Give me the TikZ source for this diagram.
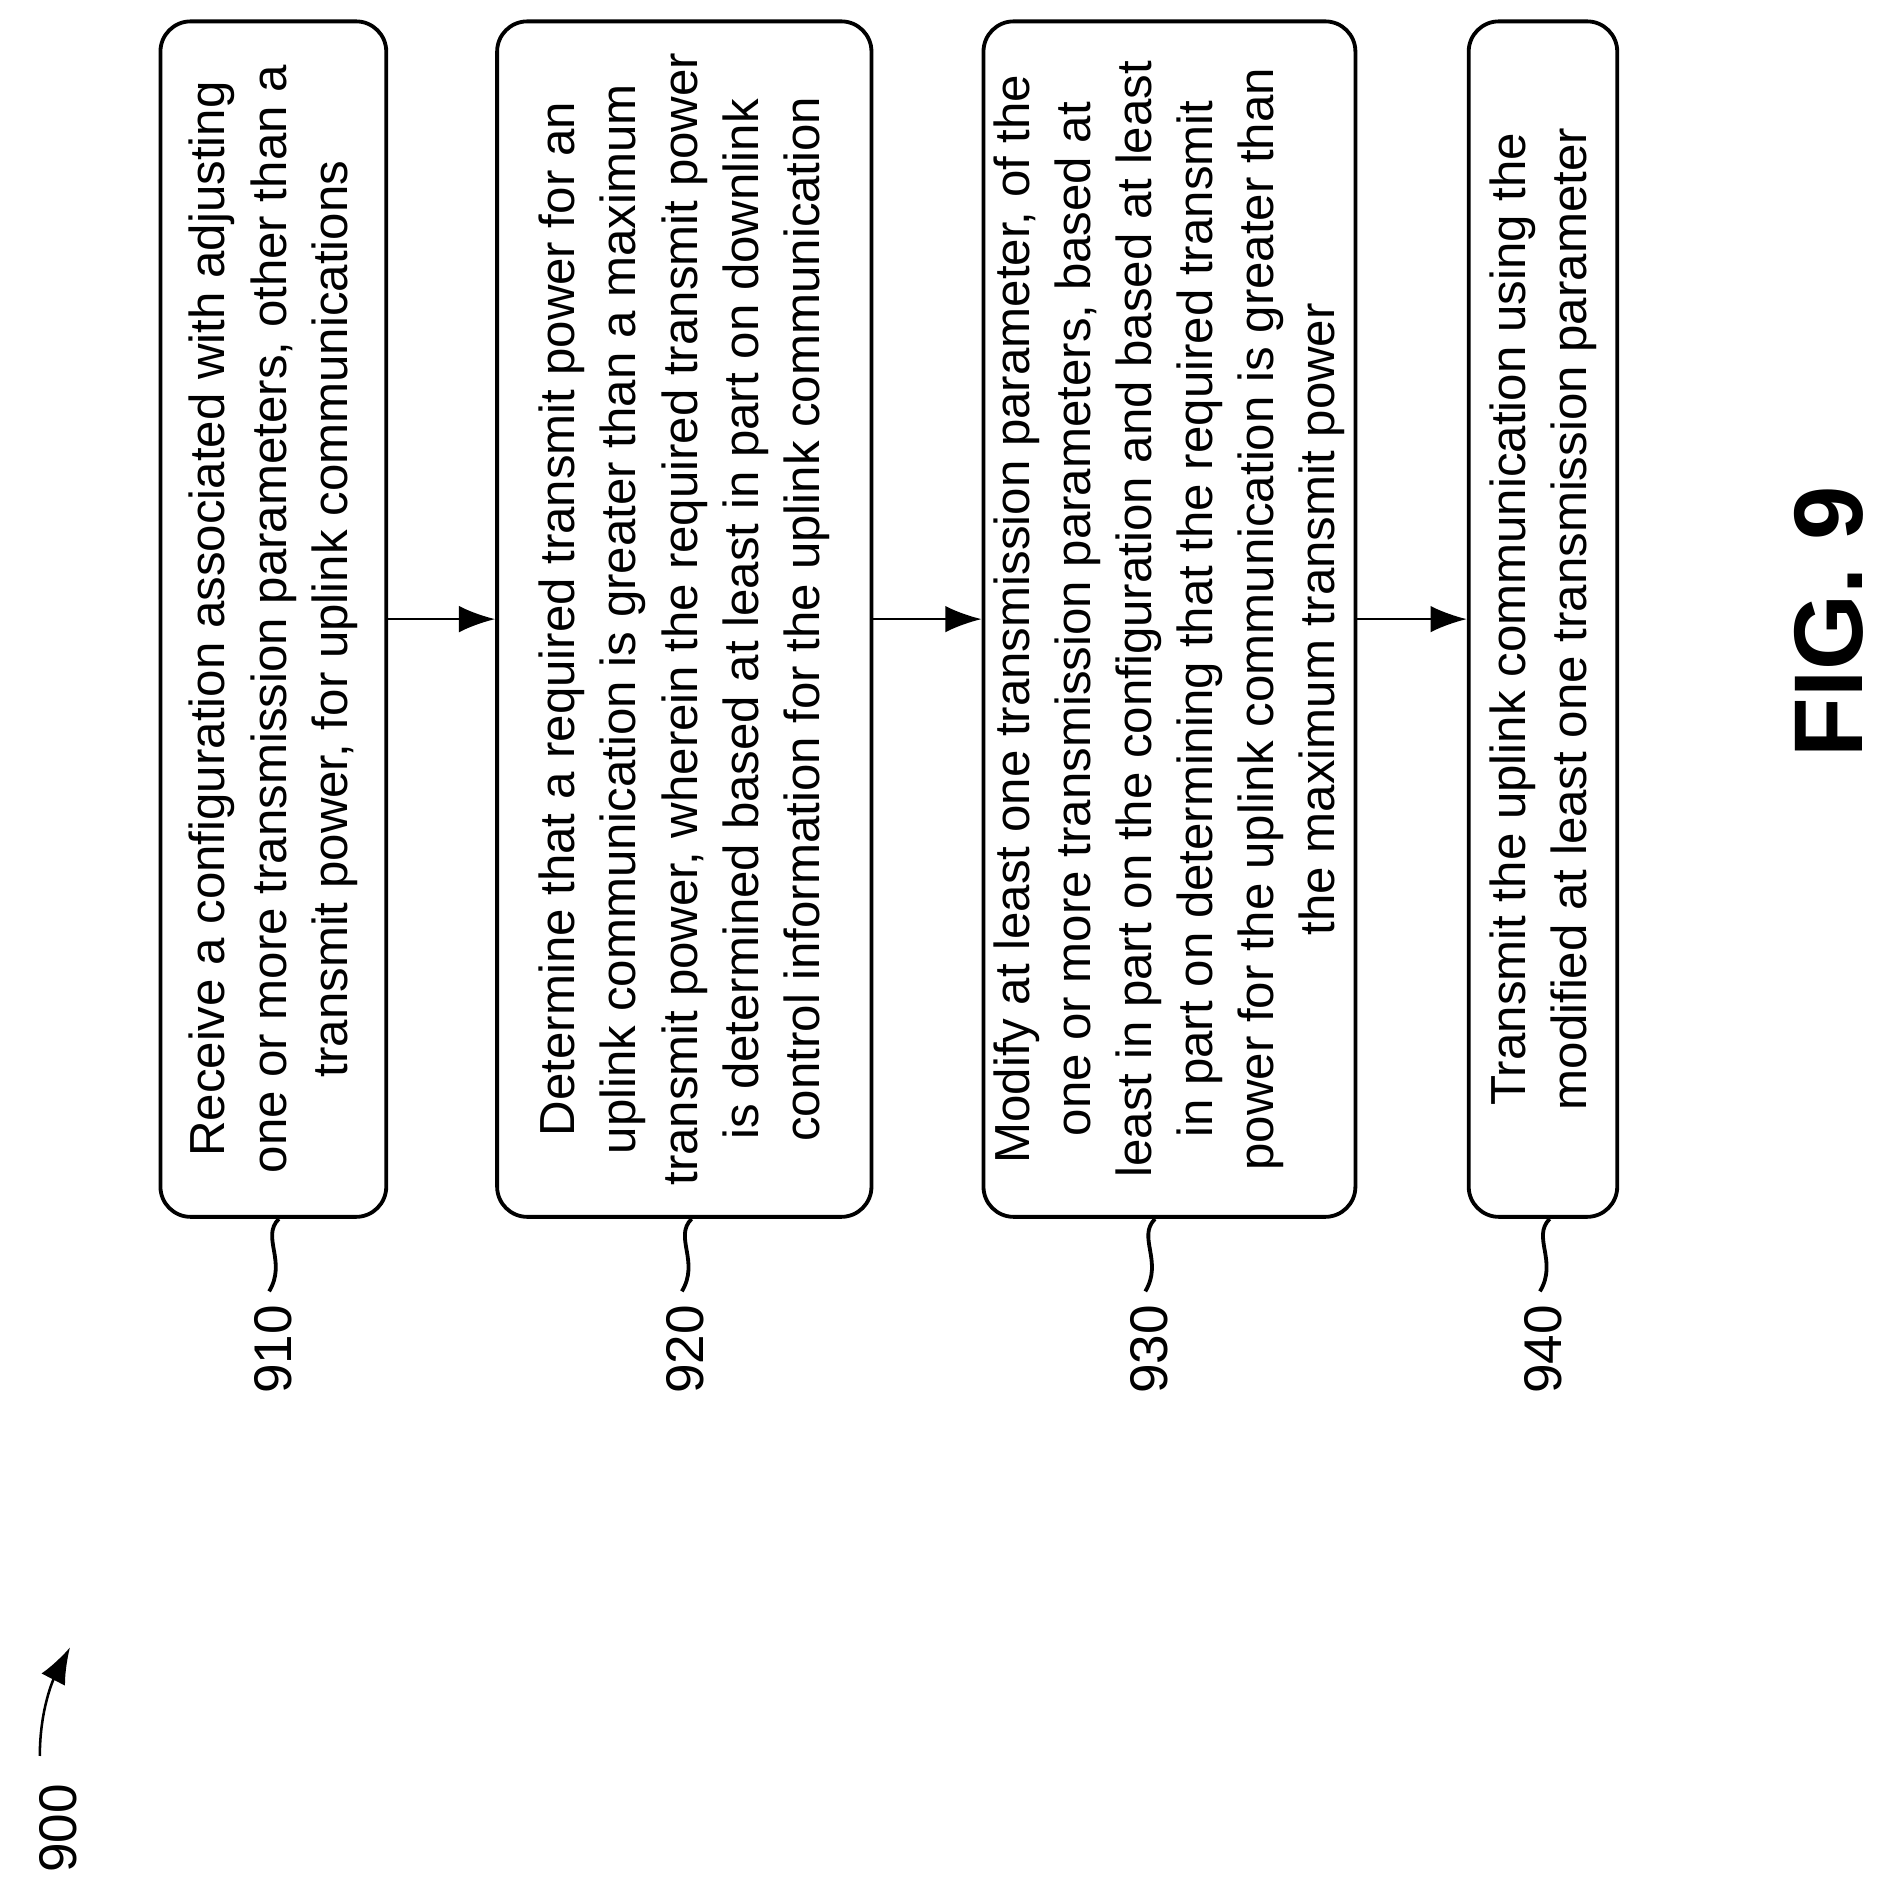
\documentclass[tikz,border=0pt]{standalone}
\usepackage{fontspec}
\setmainfont{Liberation Sans}
\usetikzlibrary{arrows.meta}
\begin{document}
\begin{tikzpicture}[x=0.01cm,y=-0.01cm,
  box/.style={draw,line width=0.9pt,rounded corners=0.25cm,rotate=90,minimum width=9.9cm,align=center,font=\fontsize{11.6}{14.4}\selectfont,inner sep=0pt},
  arr/.style={-{Latex[length=0.3cm,width=0.22cm]},line width=0.6pt},
  lab/.style={rotate=90,font=\fontsize{12.5}{15}\selectfont},
  sq/.style={line width=0.9pt}]
\useasboundingbox (0,0) rectangle (1560,1576);
\node[box,minimum height=1.87cm] (b1) at (226.5,513) {Receive a configuration associated with adjusting\\one or more transmission parameters, other than a\\transmit power, for uplink communications};
\node[box,minimum height=3.1cm] (b2) at (567,513) {Determine that a required transmit power for an\\uplink communication is greater than a maximum\\transmit power, wherein the required transmit power\\is determined based at least in part on downlink\\control information for the uplink communication};
\node[box,minimum height=3.08cm] (b3) at (969,513) {Modify at least one transmission parameter, of the\\one or more transmission parameters, based at\\least in part on the configuration and based at least\\in part on determining that the required transmit\\power for the uplink communication is greater than\\the maximum transmit power};
\node[box,minimum height=1.23cm] (b4) at (1278.5,513) {Transmit the uplink communication using the\\modified at least one transmission parameter};
\draw[arr] (b1.south) -- (b2.north);
\draw[arr] (b2.south) -- (b3.north);
\draw[arr] (b3.south) -- (b4.north);
\foreach \n/\x/\t in {1/226/910,2/568/920,3/952/930,4/1279/940}{
  \coordinate (s\n) at (\x+5,1010);
  \node[lab] (l\n) at (\x,1118) {\t};
  \draw[sq] (s\n) .. controls (\x-10,1025) and (\x+12,1045) .. (\x-3,1070);
}
\node[lab] (n900) at (48,1515) {900};
\coordinate (a0) at (33,1455);
\coordinate (a1) at (58,1365);
\draw[arr] (a0) .. controls (33,1415) and (45,1390) .. (a1);
\node[rotate=90,font=\fontsize{23}{28}\selectfont\bfseries] (fig) at (1515,515) {FIG. 9};
\end{tikzpicture}
\end{document}
